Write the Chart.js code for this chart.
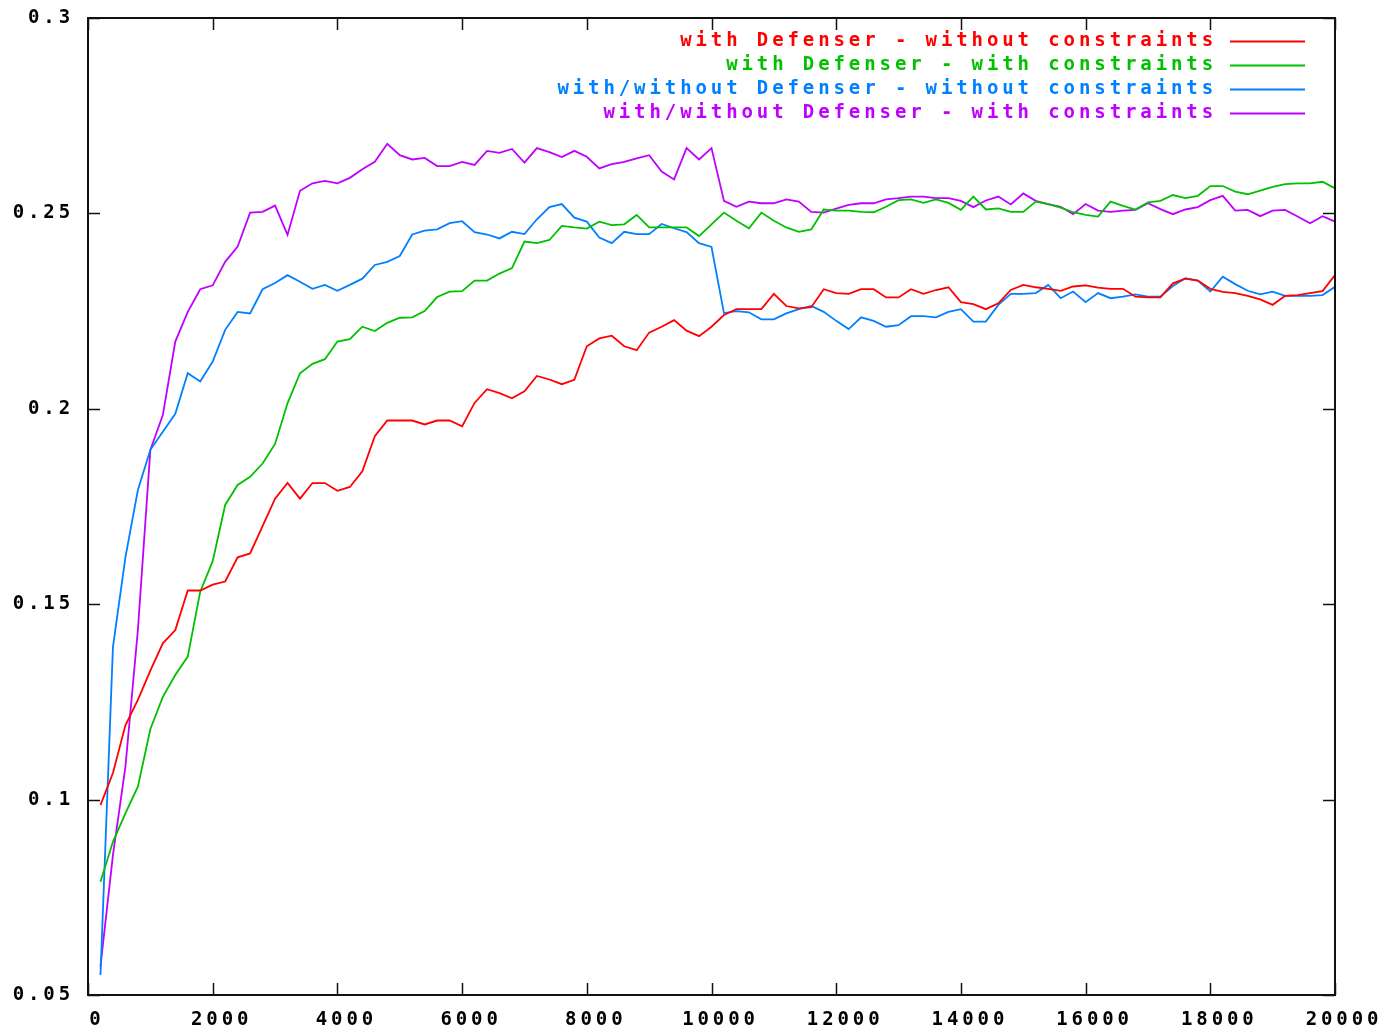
<!DOCTYPE html>
<html>
<head>
<meta charset="utf-8">
<script src="https://cdn.jsdelivr.net/npm/chart.js@4.4.1/dist/chart.umd.min.js"></script>
<style>
  html, body { margin: 0; padding: 0; background: #fff; }
  canvas { display: block; }
</style>
</head>
<body>
<canvas id="chart" width="1382" height="1030"></canvas>
<script>
const iterations = [
  200, 400, 600, 800, 1000, 1200, 1400, 1600, 1800, 2000,
  2200, 2400, 2600, 2800, 3000, 3200, 3400, 3600, 3800, 4000,
  4200, 4400, 4600, 4800, 5000, 5200, 5400, 5600, 5800, 6000,
  6200, 6400, 6600, 6800, 7000, 7200, 7400, 7600, 7800, 8000,
  8200, 8400, 8600, 8800, 9000, 9200, 9400, 9600, 9800, 10000,
  10200, 10400, 10600, 10800, 11000, 11200, 11400, 11600, 11800, 12000,
  12200, 12400, 12600, 12800, 13000, 13200, 13400, 13600, 13800, 14000,
  14200, 14400, 14600, 14800, 15000, 15200, 15400, 15600, 15800, 16000,
  16200, 16400, 16600, 16800, 17000, 17200, 17400, 17600, 17800, 18000,
  18200, 18400, 18600, 18800, 19000, 19200, 19400, 19600, 19800, 20000
];

const defNoConstr = [
  0.0986, 0.1068, 0.119, 0.1255, 0.133, 0.140, 0.1434, 0.1535, 0.1535, 0.155,
  0.1558, 0.162, 0.163, 0.170, 0.177, 0.181, 0.177, 0.181, 0.181, 0.179,
  0.180, 0.184, 0.193, 0.197, 0.197, 0.197, 0.196, 0.197, 0.197, 0.1955,
  0.2015, 0.205, 0.204, 0.2027, 0.2045, 0.2084, 0.2075, 0.2063, 0.2074, 0.216,
  0.218, 0.2187, 0.216, 0.215, 0.2195, 0.221, 0.2227, 0.220, 0.2186, 0.221,
  0.224, 0.2255, 0.2255, 0.2255, 0.2294, 0.2263, 0.2257, 0.226, 0.2306, 0.2296,
  0.2294, 0.2306, 0.2306, 0.2285, 0.2285, 0.2306, 0.2294, 0.2304, 0.2311, 0.2273,
  0.2268, 0.2255, 0.227, 0.2304, 0.2317, 0.2311, 0.2307, 0.2302, 0.2313, 0.2316,
  0.231, 0.2307, 0.2307, 0.2287, 0.2285, 0.2285, 0.2321, 0.2333, 0.2328, 0.2307,
  0.2299, 0.2296, 0.2289, 0.228, 0.2266, 0.2289, 0.2291, 0.2296, 0.2301, 0.2342
];

const defConstr = [
  0.079, 0.0892, 0.0965, 0.1033, 0.118, 0.1263, 0.1319, 0.1366, 0.1532, 0.161,
  0.1754, 0.1805, 0.1826, 0.186, 0.191, 0.2014, 0.2091, 0.2115, 0.2127, 0.2172,
  0.2178, 0.221, 0.2199, 0.222, 0.2233, 0.2234, 0.225, 0.2286, 0.230, 0.2301,
  0.2328, 0.2328, 0.2346, 0.236, 0.2428, 0.2424, 0.2432, 0.2468, 0.2464, 0.2461,
  0.2479, 0.247, 0.2472, 0.2496, 0.2464, 0.2464, 0.2464, 0.2464, 0.2442, 0.2472,
  0.2502, 0.2481, 0.2462, 0.2502, 0.2481, 0.2464, 0.2453, 0.2459, 0.251, 0.2507,
  0.2507, 0.2504, 0.2503, 0.2517, 0.2534, 0.2536, 0.2527, 0.2536, 0.2527, 0.2509,
  0.2543, 0.251, 0.2513, 0.2504, 0.2504, 0.253, 0.2524, 0.2515, 0.2503, 0.2496,
  0.2492, 0.253, 0.2519, 0.251, 0.2528, 0.2532, 0.2547, 0.2539, 0.2545, 0.257,
  0.257, 0.2556, 0.2549, 0.2558, 0.2568, 0.2575, 0.2577, 0.2577, 0.2581, 0.2564
];

const anyNoConstr = [
  0.0551, 0.139, 0.162, 0.1792, 0.1895, 0.1941, 0.1987, 0.2091, 0.207, 0.2121,
  0.2202, 0.2248, 0.2244, 0.2306, 0.2322, 0.2342, 0.2325, 0.2307, 0.2317, 0.2302,
  0.2317, 0.2333, 0.2368, 0.2376, 0.2391, 0.2446, 0.2456, 0.2459, 0.2475, 0.248,
  0.2452, 0.2446, 0.2436, 0.2453, 0.2447, 0.2485, 0.2516, 0.2524, 0.2489, 0.2479,
  0.2438, 0.2424, 0.2453, 0.2447, 0.2447, 0.2473, 0.2462, 0.2452, 0.2424, 0.2414,
  0.2245, 0.225, 0.2247, 0.2229, 0.2229, 0.2244, 0.2255, 0.2263, 0.2248, 0.2225,
  0.2204, 0.2234, 0.2225, 0.221, 0.2214, 0.2237, 0.2237, 0.2234, 0.2248, 0.2255,
  0.2223, 0.2223, 0.2266, 0.2294, 0.2294, 0.2296, 0.2317, 0.2283, 0.230, 0.2273,
  0.2296, 0.2283, 0.2287, 0.2293, 0.2287, 0.2287, 0.2314, 0.2334, 0.2328, 0.230,
  0.2338, 0.2319, 0.2302, 0.2293, 0.230, 0.2289, 0.2289, 0.2289, 0.2291, 0.2312
];

const anyConstr = [
  0.0573, 0.0858, 0.1084, 0.1434, 0.1895, 0.1984, 0.2172, 0.2248, 0.2306, 0.2316,
  0.2376, 0.2415, 0.2502, 0.2504, 0.252, 0.2445, 0.2558, 0.2577, 0.2583, 0.2577,
  0.2591, 0.2613, 0.2632, 0.2678, 0.2649, 0.2638, 0.2642, 0.2621, 0.2621, 0.2632,
  0.2624, 0.266, 0.2655, 0.2665, 0.263, 0.2667, 0.2657, 0.2644, 0.266, 0.2645,
  0.2615, 0.2626, 0.2632, 0.2641, 0.2649, 0.2607, 0.2587, 0.2667, 0.2638, 0.2667,
  0.2532, 0.2517, 0.253, 0.2526, 0.2526, 0.2536, 0.253, 0.2504, 0.2502, 0.2512,
  0.2522, 0.2526, 0.2526, 0.2536, 0.2539, 0.2543, 0.2543, 0.2539, 0.2539, 0.2532,
  0.2516, 0.2533, 0.2543, 0.2523, 0.2551, 0.2532, 0.2524, 0.2517, 0.2498, 0.2524,
  0.2507, 0.2504, 0.2507, 0.2509, 0.2526, 0.2511, 0.2498, 0.251, 0.2516, 0.2534,
  0.2545, 0.2507, 0.2509, 0.2493, 0.2507, 0.2509, 0.2492, 0.2475, 0.2493, 0.2479
];

const seriesLabels = [
  'with Defenser - without constraints',
  'with Defenser - with constraints',
  'with/without Defenser - without constraints',
  'with/without Defenser - with constraints'
];
const seriesColors = ['#ff0000', '#00c000', '#0080ff', '#c000ff'];
const seriesValues = [defNoConstr, defConstr, anyNoConstr, anyConstr];

const monoFont = '"DejaVu Sans Mono", monospace';
const spacing = '3.9px';

function toPoints(values) {
  return values.map((v, i) => ({ x: iterations[i], y: v }));
}

// gnuplot style frame with inward ticks on all four sides
const framePlugin = {
  id: 'frame',
  beforeDraw(chart) {
    chart.ctx.letterSpacing = spacing;
  },
  afterDatasetsDraw(chart) {
    const { ctx, chartArea: a, scales } = chart;
    const len = 12;
    ctx.save();
    ctx.strokeStyle = '#111';
    ctx.lineWidth = 1.5;
    ctx.beginPath();
    scales.x.ticks.forEach(t => {
      const px = Math.round(scales.x.getPixelForValue(t.value)) + 0.5;
      ctx.moveTo(px, a.bottom); ctx.lineTo(px, a.bottom - len);
      ctx.moveTo(px, a.top); ctx.lineTo(px, a.top + len);
    });
    scales.y.ticks.forEach(t => {
      const py = Math.round(scales.y.getPixelForValue(t.value)) + 0.5;
      ctx.moveTo(a.left, py); ctx.lineTo(a.left + len, py);
      ctx.moveTo(a.right, py); ctx.lineTo(a.right - len, py);
    });
    ctx.stroke();
    ctx.lineWidth = 2;
    ctx.strokeRect(a.left, a.top, a.right - a.left, a.bottom - a.top);
    ctx.restore();
  }
};

// key in the top right: text right aligned, sample line after it
const keyPlugin = {
  id: 'key',
  afterDraw(chart) {
    const ctx = chart.ctx;
    ctx.save();
    ctx.letterSpacing = spacing;
    ctx.font = 'bold 19px ' + monoFont;
    ctx.textAlign = 'right';
    ctx.textBaseline = 'middle';
    chart.data.datasets.forEach((ds, i) => {
      const y = 41 + i * 24;
      ctx.fillStyle = ds.borderColor;
      ctx.fillText(ds.label, 1217, y);
      ctx.strokeStyle = ds.borderColor;
      ctx.lineWidth = 2;
      ctx.beginPath();
      ctx.moveTo(1230, y + 0.5);
      ctx.lineTo(1305, y + 0.5);
      ctx.stroke();
    });
    ctx.restore();
  }
};

document.addEventListener('DOMContentLoaded', () => {
  const ctx = document.getElementById('chart').getContext('2d');
  new Chart(ctx, {
    type: 'line',
    data: {
      datasets: seriesValues.map((vals, i) => ({
        label: seriesLabels[i],
        data: toPoints(vals),
        borderColor: seriesColors[i],
        backgroundColor: seriesColors[i],
        borderWidth: 1.8,
        pointRadius: 0,
        tension: 0,
        fill: false
      }))
    },
    options: {
      responsive: false,
      animation: false,
      devicePixelRatio: 1,
      layout: { padding: { top: 18, right: 47, left: 0, bottom: 0 } },
      plugins: {
        legend: { display: false },
        tooltip: { enabled: false }
      },
      scales: {
        x: {
          type: 'linear',
          min: 0,
          max: 20000,
          border: { display: false },
          grid: { display: false, drawTicks: false },
          ticks: {
            stepSize: 2000,
            padding: 14,
            labelOffset: 9,
            maxRotation: 0,
            autoSkip: false,
            color: '#000',
            font: { family: monoFont, size: 19, weight: 'bold' },
            callback: v => String(v)
          },
          afterFit(scale) {
            scale.height = 35;
            scale.paddingLeft = 0;
            scale.paddingRight = 0;
          }
        },
        y: {
          min: 0.05,
          max: 0.3,
          border: { display: false },
          grid: { display: false, drawTicks: false },
          ticks: {
            stepSize: 0.05,
            padding: 14,
            color: '#000',
            font: { family: monoFont, size: 19, weight: 'bold' },
            callback: v => String(Number(v.toFixed(2)))
          },
          afterFit(scale) {
            scale.width = 88;
            scale.paddingTop = 0;
            scale.paddingBottom = 0;
          }
        }
      }
    },
    plugins: [framePlugin, keyPlugin]
  });
});
</script>
</body>
</html>
